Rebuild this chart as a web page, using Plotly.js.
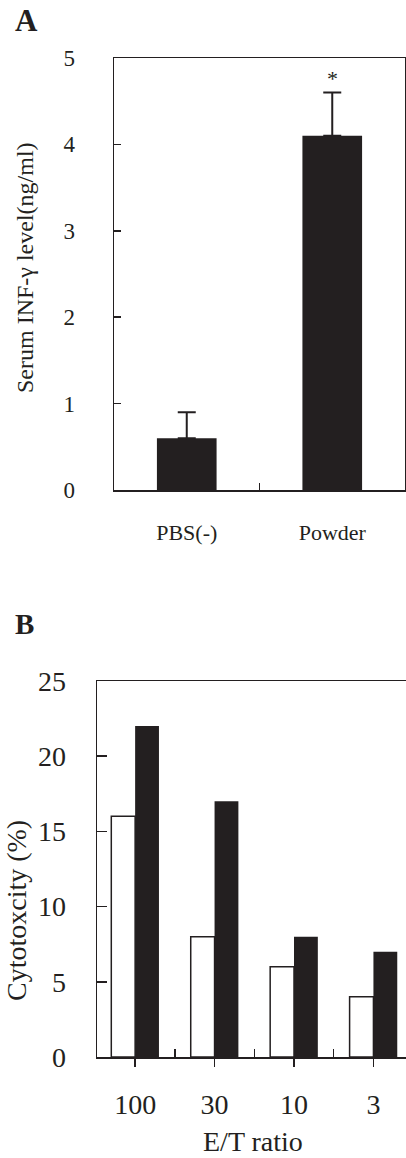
<!DOCTYPE html>
<html>
<head>
<meta charset="utf-8">
<script src="https://cdn.plot.ly/plotly-3.0.1.min.js"></script>
<style>html,body{margin:0;padding:0;background:#fff;}#chart{width:406px;height:1158px;}</style>
</head>
<body>
<div id="chart"></div>
<script>
// Panel A data
const catsA = ['PBS(-)', 'Powder'];
const valsA = [0.6, 4.1];
const errA = [0.3, 0.5];
const yTicksA = [0, 1, 2, 3, 4, 5];
// Panel B data
const etLabels = ['100', '30', '10', '3'];
const whiteVals = [16, 8, 6, 4];
const blackVals = [22, 17, 8, 7];
const yTicksB = [0, 5, 10, 15, 20, 25];

const INK = '#231f20';
const FONT = "'Liberation Serif', 'Times New Roman', serif";
const H = 1158, W = 406;
const px = v => v / W;
const py = v => (H - v) / H;

const traces = [
  {
    type: 'bar', x: catsA, y: valsA, xaxis: 'x', yaxis: 'y', width: 0.41,
    marker: {color: INK, line: {width: 0}},
    error_y: {type: 'data', symmetric: false, array: errA, arrayminus: [0, 0],
              color: INK, thickness: 2, width: 9},
    hoverinfo: 'x+y', showlegend: false
  },
  {
    type: 'bar', x: etLabels, y: whiteVals, xaxis: 'x2', yaxis: 'y2',
    offset: -0.3, width: 0.3,
    marker: {color: '#ffffff', line: {color: INK, width: 1.5}}, showlegend: false
  },
  {
    type: 'bar', x: etLabels, y: blackVals, xaxis: 'x2', yaxis: 'y2',
    offset: 0, width: 0.3,
    marker: {color: INK, line: {color: INK, width: 0}}, showlegend: false
  },
  {
    type: 'scatter', mode: 'none', x: etLabels, y: whiteVals, xaxis: 'x3', yaxis: 'y2',
    hoverinfo: 'skip', showlegend: false
  }
];

const axCommon = {showgrid: false, zeroline: false, showline: true, linecolor: INK,
  linewidth: 1.5, tickcolor: INK, tickwidth: 1.5, fixedrange: true};

const layout = {
  width: W, height: H,
  margin: {l: 0, r: 0, t: 0, b: 0},
  paper_bgcolor: '#fff', plot_bgcolor: '#fff',
  showlegend: false, barmode: 'overlay',
  font: {family: FONT, color: INK},
  xaxis: Object.assign({}, axCommon, {
    domain: [px(114), px(405)], anchor: 'y', type: 'category', range: [-0.5, 1.5],
    tickson: 'boundaries', ticks: 'inside', ticklen: 7, mirror: true,
    tickfont: {size: 22, family: FONT, color: INK}, ticklabelstandoff: 22
  }),
  yaxis: Object.assign({}, axCommon, {
    domain: [py(490), py(58)], anchor: 'x', range: [0, 5], tickvals: yTicksA,
    ticks: 'inside', ticklen: 7, mirror: true,
    tickfont: {size: 23, family: FONT, color: INK}, ticklabelstandoff: 33
  }),
  xaxis2: Object.assign({}, axCommon, {
    domain: [px(97), 1], anchor: 'y2', type: 'category', range: [-0.48, 3.41],
    ticks: 'outside', ticklen: 8, mirror: true,
    tickfont: {size: 28, family: FONT, color: INK}, ticklabelstandoff: 14
  }),
  xaxis3: {
    overlaying: 'x2', anchor: 'y2', type: 'category', range: [-0.48, 3.41],
    tickson: 'boundaries', ticks: 'inside', ticklen: 8, tickcolor: INK, tickwidth: 1.5,
    showline: false, showticklabels: false, showgrid: false, zeroline: false, fixedrange: true
  },
  yaxis2: Object.assign({}, axCommon, {
    domain: [py(1057), py(681)], anchor: 'x2', range: [0, 25], tickvals: yTicksB,
    ticks: 'inside', ticklen: 10, mirror: false,
    tickfont: {size: 28, family: FONT, color: INK}, ticklabelstandoff: 24
  }),
  annotations: [
    {text: '<b>A</b>', xref: 'paper', yref: 'paper', x: px(13), y: py(20),
     xanchor: 'left', yanchor: 'middle', showarrow: false, font: {size: 31, family: FONT, color: INK}},
    {text: '<b>B</b>', xref: 'paper', yref: 'paper', x: px(13), y: py(624),
     xanchor: 'left', yanchor: 'middle', showarrow: false, font: {size: 29, family: FONT, color: INK}},
    {text: '*', xref: 'x', yref: 'y', x: 'Powder', y: valsA[1] + errA[1],
     xanchor: 'center', yanchor: 'bottom', yshift: 0, showarrow: false, font: {size: 22, family: FONT, color: INK}},
    {text: 'Serum INF-γ level(ng/ml)', xref: 'paper', yref: 'paper', x: px(25), y: py(268),
     xanchor: 'center', yanchor: 'middle', textangle: -90, showarrow: false, font: {size: 24, family: FONT, color: INK}},
    {text: 'Cytotoxcity (%)', xref: 'paper', yref: 'paper', x: px(16), y: py(911),
     xanchor: 'center', yanchor: 'middle', textangle: -90, showarrow: false, font: {size: 28, family: FONT, color: INK}},
    {text: 'E/T ratio', xref: 'paper', yref: 'paper', x: px(253), y: py(1141),
     xanchor: 'center', yanchor: 'middle', showarrow: false, font: {size: 28, family: FONT, color: INK}}
  ]
};

Plotly.newPlot('chart', traces, layout, {staticPlot: true, displayModeBar: false});
</script>
</body>
</html>
